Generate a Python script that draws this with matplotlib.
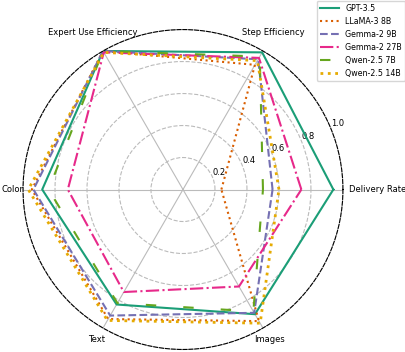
import matplotlib
matplotlib.use('Agg')
import matplotlib.pyplot as plt
import numpy as np

# axes of the radar, counter-clockwise from the right
categories = ['Delivery Rate', 'Step Efficiency', 'Expert Use Efficiency',
              'Color', 'Text', 'Images']

models = ['GPT-3.5', 'LLaMA-3 8B', 'Gemma-2 9B', 'Gemma-2 27B',
          'Qwen-2.5 7B', 'Qwen-2.5 14B']

gpt35 = [0.94, 0.99, 1.00, 0.88, 0.83, 0.90]
llama3_8b = [0.24, 0.90, 1.00, 0.945, 0.935, 0.95]
gemma2_9b = [0.56, 0.94, 1.00, 0.935, 0.91, 0.89]
gemma2_27b = [0.74, 0.95, 0.99, 0.72, 0.74, 0.70]
qwen25_7b = [0.50, 0.96, 1.00, 0.84, 0.82, 0.88]
qwen25_14b = [0.60, 0.93, 0.99, 0.967, 0.945, 0.965]

series = [gpt35, llama3_8b, gemma2_9b, gemma2_27b, qwen25_7b, qwen25_14b]
colors = ['#1b9e77', '#d95f02', '#7570b3', '#e7298a', '#66a61e', '#e6ab02']
styles = ['-', ':', '--', '-.', (0, (5, 13)), ':']
widths = [1.5, 1.5, 1.5, 1.5, 1.5, 2.0]

angles = np.linspace(0, 2 * np.pi, len(categories), endpoint=False)
closed = np.append(angles, angles[0])

fig = plt.figure(figsize=(4.06, 3.52), dpi=100)
ax = fig.add_axes([0.0567, 0.0071, 0.788, 0.909], projection='polar')

for name, vals, c, ls, lw in zip(models, series, colors, styles, widths):
    v = np.append(vals, vals[0])
    ax.plot(closed, v, color=c, linestyle=ls, linewidth=lw, label=name)

ax.set_ylim(0, 1.0)
ax.set_yticks([0.2, 0.4, 0.6, 0.8, 1.0])
ax.set_yticklabels(['0.2', '0.4', '0.6', '0.8', '1.0'], fontsize=6)
ax.set_xticks(angles)
ax.set_xticklabels([])

# category labels placed by hand, the original sits them unevenly
label_r = [1.035, 1.13, 1.13, 0.995, 1.086, 1.086]
label_ha = ['left', 'center', 'center', 'right', 'center', 'center']
for a, txt, r, ha in zip(angles, categories, label_r, label_ha):
    ax.text(a, r, txt, fontsize=6, ha=ha, va='center', clip_on=False)

ax.xaxis.grid(True, color='#bbbbbb', linestyle='-', linewidth=0.8)
ax.yaxis.grid(True, color='#bbbbbb', linestyle='--', linewidth=0.8)
ax.spines['polar'].set_linestyle('--')
ax.spines['polar'].set_linewidth(0.8)

fig.legend(loc='upper right', bbox_to_anchor=(1.0, 1.0), fontsize=5.7,
           borderaxespad=0.1, handlelength=2.4)

fig.savefig('out.png', dpi=100)
